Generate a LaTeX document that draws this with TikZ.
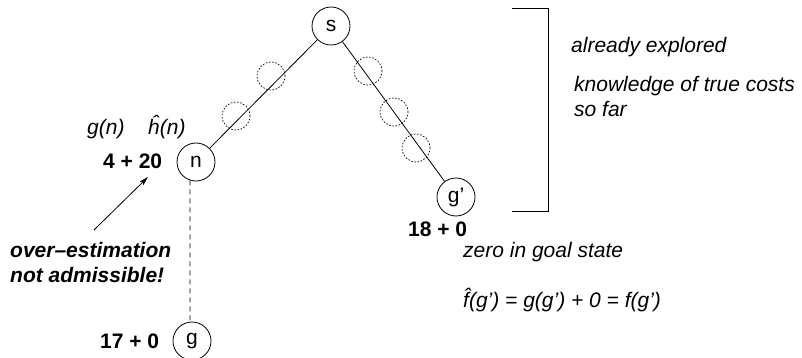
\documentclass[tikz,border=0pt]{standalone}
\usepackage{fontspec}
\setmainfont{Liberation Sans}
\usetikzlibrary{arrows.meta}
\begin{document}
\begin{tikzpicture}[x=1pt,y=-1pt,
  every node/.style={inner sep=0pt,font=\fontsize{21}{24}\selectfont},
  state/.style={circle,draw,minimum size=38pt,line width=0.8pt},
  ghost/.style={circle,draw,dash pattern=on 1.6pt off 1.6pt,minimum size=28pt,line width=0.7pt},
  edge/.style={line width=0.8pt},
  dashedge/.style={line width=0.8pt,dash pattern=on 5pt off 4pt},
  lbl/.style={anchor=base west},
  it/.style={lbl,font=\fontsize{21}{24}\selectfont\itshape},
  bfl/.style={lbl,font=\fontsize{21}{24}\selectfont\bfseries},
  bfit/.style={lbl,font=\fontsize{21}{24}\selectfont\bfseries\itshape}]
\useasboundingbox (0,0) rectangle (802,358);
% states
\node[state] (s) at (331,26) {s};
\node[state] (n) at (196,162) {n};
\node[state] (gp) at (456,197) {g’};
\node[state] (g) at (192,341) {g};
% ghost (already explored) nodes
\node[ghost] (e1) at (271,76) {};
\node[ghost] (e2) at (236,116) {};
\node[ghost] (e3) at (368,71) {};
\node[ghost] (e4) at (394,112) {};
\node[ghost] (e5) at (416,148) {};
% edges
\draw[edge] (s) -- (n);
\draw[edge] (s) -- (gp);
\draw[dashedge] (n.252) -- (g.96);
% bracket
\coordinate (b1) at (512,8);
\coordinate (b2) at (548,8);
\coordinate (b3) at (548,211);
\coordinate (b4) at (512,211);
\draw[line width=0.9pt] (b1) -- (b2) -- (b3) -- (b4);
% labels
\node[it] (gn) at (87,135) {g(n)};
\node[it] (hn) at (148,135) {\^{h}(n)};
\node[bfl] (c1) at (103,168) {4 + 20};
\node[bfl] (c2) at (100,348) {17 + 0};
\node[bfl] (c3) at (408,236) {18 + 0};
\node[bfit] (ov1) at (10,257) {over–estimation};
\node[bfit] (ov2) at (10,282) {not admissible!};
\node[it] (zg) at (463,257) {zero in goal state};
\node[it] (fm) at (463,307) {\^{f}(g’) = g(g’) + 0 = f(g’)};
\node[it] (ae) at (571,53) {already explored};
\node[it] (kt) at (574,92) {knowledge of true costs};
\node[it] (sf) at (574,117) {so far};
% arrow
\coordinate (atail) at (94,230);
\coordinate (ahead) at (148,177);
\draw[line width=0.8pt,-{Stealth[length=9pt,width=5pt,inset=1.5pt]}] (atail) -- (ahead);
\end{tikzpicture}
\end{document}
